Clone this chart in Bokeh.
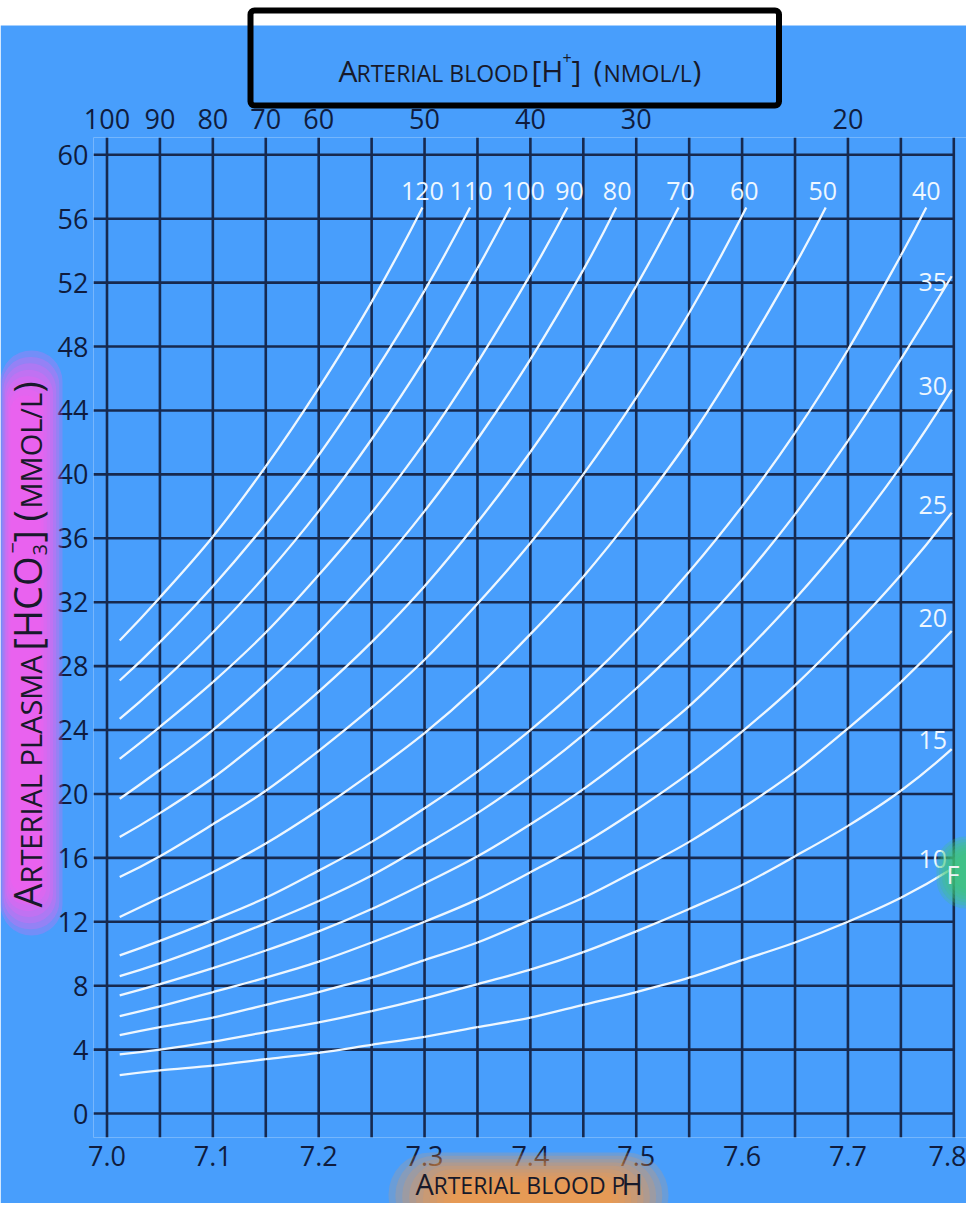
import math
from bokeh.plotting import figure
from bokeh.models import LinearAxis, FixedTicker, ColumnDataSource, Range1d
from bokeh.core.properties import value
from bokeh.embed import file_html
from bokeh.resources import INLINE

# ---------------- data ----------------
PH_TICKS = [7.0, 7.1, 7.2, 7.3, 7.4, 7.5, 7.6, 7.7, 7.8]
PH_TICK_LABELS = ["7.0", "7.1", "7.2", "7.3", "7.4", "7.5", "7.6", "7.7", "7.8"]
PH_GRID = [7.0, 7.05, 7.1, 7.15, 7.2, 7.25, 7.3, 7.35, 7.4, 7.45, 7.5, 7.55, 7.6, 7.65, 7.7, 7.75, 7.8]
HCO3_TICKS = [0, 4, 8, 12, 16, 20, 24, 28, 32, 36, 40, 44, 48, 52, 56, 60]
H_ION_PH = [7.0, 7.05, 7.1, 7.15, 7.2, 7.3, 7.4, 7.5, 7.7]
H_ION_LABELS = ["100", "90", "80", "70", "60", "50", "40", "30", "20"]

# pH positions at which the isobars were read
PH_READ = [7.012, 7.05, 7.10, 7.15, 7.20, 7.25, 7.30, 7.35, 7.40, 7.45, 7.50,
           7.55, 7.60, 7.65, 7.70, 7.75, 7.798]

# PCO2 isobars that end at the top of the chart (label above the end)
PCO2_HIGH = ["120", "110", "100", "90", "80", "70", "60", "50", "40"]
END_PH_HIGH = [7.298, 7.343, 7.381, 7.435, 7.481, 7.540, 7.604, 7.679, 7.774]
HCO3_120 = [29.6, 32.3, 36.1, 40.5, 45.4, 50.8, 56.7]
HCO3_110 = [27.1, 29.5, 33.0, 36.9, 41.2, 46.1, 51.5, 56.7]
HCO3_100 = [24.7, 26.9, 30.1, 33.7, 37.7, 42.2, 47.2, 52.9, 56.7]
HCO3_90 = [22.2, 24.2, 27.0, 30.1, 33.7, 37.6, 42.0, 47.0, 52.5, 56.7]
HCO3_80 = [19.7, 21.5, 24.0, 26.9, 30.1, 33.7, 37.7, 42.2, 47.2, 52.8, 56.7]
HCO3_70 = [17.3, 18.8, 21.0, 23.6, 26.4, 29.5, 33.0, 37.0, 41.4, 46.3, 51.8, 56.7]
HCO3_60 = [14.8, 16.1, 18.1, 20.2, 22.7, 25.4, 28.4, 31.9, 35.7, 40.0, 44.8, 50.1, 56.7]
HCO3_50 = [12.3, 13.5, 15.1, 16.9, 19.0, 21.3, 23.8, 26.7, 30.0, 33.6, 37.7, 42.2, 47.4, 53.1, 56.7]
HCO3_40 = [9.9, 10.8, 12.1, 13.5, 15.2, 17.0, 19.1, 21.4, 24.0, 26.9, 30.2, 33.9, 38.0, 42.6, 47.8, 53.7, 56.7]

# PCO2 isobars that run out at the right edge (label at the right end)
PCO2_LOW = ["35", "30", "25", "20", "15", "10"]
HCO3_35 = [8.6, 9.4, 10.6, 11.9, 13.3, 14.9, 16.8, 18.8, 21.1, 23.7, 26.6, 29.8, 33.4, 37.5, 42.1, 47.2, 52.4]
HCO3_30 = [7.4, 8.1, 9.1, 10.2, 11.4, 12.8, 14.4, 16.1, 18.1, 20.3, 22.8, 25.5, 28.7, 32.2, 36.1, 40.5, 45.3]
HCO3_25 = [6.1, 6.7, 7.6, 8.5, 9.5, 10.7, 12.0, 13.4, 15.1, 16.9, 19.0, 21.3, 23.9, 26.8, 30.1, 33.7, 37.6]
HCO3_20 = [4.9, 5.4, 6.0, 6.8, 7.6, 8.5, 9.6, 10.7, 12.1, 13.5, 15.2, 17.0, 19.1, 21.4, 24.1, 27.0, 30.2]
HCO3_15 = [3.7, 4.0, 4.5, 5.1, 5.7, 6.4, 7.2, 8.1, 9.0, 10.1, 11.4, 12.8, 14.3, 16.1, 18.0, 20.2, 22.8]
HCO3_10 = [2.4, 2.7, 3.0, 3.4, 3.8, 4.3, 4.8, 5.4, 6.0, 6.8, 7.6, 8.5, 9.6, 10.7, 12.0, 13.5, 15.3]

HIGH_SERIES = [HCO3_120, HCO3_110, HCO3_100, HCO3_90, HCO3_80, HCO3_70, HCO3_60, HCO3_50, HCO3_40]
LOW_SERIES = [HCO3_35, HCO3_30, HCO3_25, HCO3_20, HCO3_15, HCO3_10]

# ---------------- styling / layout ----------------
FONT = "Open Sans"
BLUE = "#489efc"
GRID = "#16294f"
INK = "#0f1c3e"
CURVE = "#eef7ff"
TITLE_INK = "#17192a"

# label nudges (screen px) so that each isobar label sits where the picture has it
HIGH_LABEL_DX = [0, 1, 13, 2, 1, 2, -2, -3, 0]
LOW_LABEL_DY = [6, -4, -8, -13, -9, -10]

W, H = 966, 1203
FL, FT, FB, FR = 93, 137, 1137, 966    # frame edges in picture pixels
X0, X1 = 6.98725, 7.81200
Y0, Y1 = -1.502, 61.084
KX = (X1 - X0) / (FR - FL)
KY = (Y1 - Y0) / (FB - FT)


def dx(px):
    return X0 + (px - FL) * KX


def dy(py):
    return Y1 - (py - FT) * KY


p = figure(width=W, height=H, x_range=Range1d(X0, X1), y_range=Range1d(Y0, Y1),
           min_border_left=FL, min_border_right=0, min_border_top=FT, min_border_bottom=H - FB,
           toolbar_location=None, output_backend="svg",
           background_fill_color=BLUE, border_fill_color=BLUE, outline_line_color=None)
p.grid.visible = False

bottom_axis = p.below[0]
left_axis = p.left[0]
top_axis = LinearAxis(ticker=FixedTicker(ticks=H_ION_PH),
                      major_label_overrides=dict(zip(H_ION_PH, H_ION_LABELS)))
p.add_layout(top_axis, "above")
bottom_axis.ticker = FixedTicker(ticks=PH_TICKS)
bottom_axis.major_label_overrides = dict(zip(PH_TICKS, PH_TICK_LABELS))
left_axis.ticker = FixedTicker(ticks=HCO3_TICKS)

for ax in (bottom_axis, left_axis, top_axis):
    ax.axis_line_color = None
    ax.major_tick_line_color = None
    ax.minor_tick_line_color = None
    ax.major_tick_in = 0
    ax.major_tick_out = 0
    ax.major_label_text_font = FONT
    ax.major_label_text_font_size = "27px"
    ax.major_label_text_color = INK
bottom_axis.major_label_standoff = 8
top_axis.major_label_standoff = 9
left_axis.major_label_standoff = 5


def rbox(l, t, r, b, **kw):
    p.quad(left=[dx(l)], right=[dx(r)], top=[dy(t)], bottom=[dy(b)], level="overlay", **kw)


def glow(l, t, r, b, il, it, ir, ib, color, n=8, alpha=0.15):
    for i in range(n):
        f = i / (n - 1)
        L = l + (il - l) * f
        T = t + (it - t) * f
        Rr = r + (ir - r) * f
        B = b + (ib - b) * f
        rad = int(min(Rr - L, B - T) / 2)
        rbox(L, T, Rr, B, fill_color=color, fill_alpha=alpha, line_color=None, border_radius=rad)


def text(txt, X, Y, size, color=TITLE_INK, angle=0.0):
    # (X, Y): start of the text on its baseline, in picture pixels
    up = 0.357 * size
    if angle == 0.0:
        cx, cy = X, Y - up
    else:
        cx, cy = X - up, Y
    p.text(x=[dx(cx)], y=[dy(cy)], text=[txt], angle=angle, text_font=value(FONT),
           text_font_size=f"{size}px", text_color=color, text_align="left",
           text_baseline="middle", level="overlay")


def hermite_segments(xv, yv):
    """Smooth drawing through the read points (cubic Hermite, x stays monotonic)."""
    n = len(xv)
    sec = [(yv[i + 1] - yv[i]) / (xv[i + 1] - xv[i]) for i in range(n - 1)]
    s = [0.0] * n
    for i in range(1, n - 1):
        s[i] = (yv[i + 1] - yv[i - 1]) / (xv[i + 1] - xv[i - 1])
    s[0] = 2 * sec[0] - s[1] if n > 2 else sec[0]
    s[-1] = 2 * sec[-1] - s[-2] if n > 2 else sec[-1]
    out = []
    for i in range(n - 1):
        h = xv[i + 1] - xv[i]
        out.append((xv[i], yv[i], xv[i + 1], yv[i + 1],
                    xv[i] + h / 3, yv[i] + s[i] * h / 3,
                    xv[i + 1] - h / 3, yv[i + 1] - s[i + 1] * h / 3))
    return out


# white strip at the very top of the picture
rbox(-10, -10, 980, 25, fill_color="white", fill_alpha=1.0, line_color=None)

# glows behind the axis titles
glow(0, 350, 62, 935, 10, 395, 40, 892, "#ff5cf0", n=8, alpha=0.24)
glow(388, 1152, 668, 1236, 450, 1182, 612, 1220, "#ff9a40", n=10, alpha=0.19)
glow(936, 836, 995, 908, 952, 852, 990, 890, "#3fc777", n=7, alpha=0.25)

# grid lines
p.segment(x0=PH_GRID, y0=[Y0] * len(PH_GRID), x1=PH_GRID, y1=[Y1] * len(PH_GRID),
          line_color=GRID, line_width=2.6)
p.segment(x0=[X0] * len(HCO3_TICKS), y0=HCO3_TICKS, x1=[PH_GRID[-1]] * len(HCO3_TICKS),
          y1=HCO3_TICKS, line_color=GRID, line_width=2.6)

# isobars
curves = []
for vals, end in zip(HIGH_SERIES, END_PH_HIGH):
    curves.append((PH_READ[:len(vals) - 1] + [end], vals))
for vals in LOW_SERIES:
    curves.append((PH_READ[:len(vals)], vals))
cols = {k: [] for k in ("x0", "y0", "x1", "y1", "cx0", "cy0", "cx1", "cy1")}
for xv, yv in curves:
    for seg in hermite_segments(xv, yv):
        for k, v in zip(("x0", "y0", "x1", "y1", "cx0", "cy0", "cx1", "cy1"), seg):
            cols[k].append(v)
p.bezier(x0="x0", y0="y0", x1="x1", y1="y1", cx0="cx0", cy0="cy0", cx1="cx1", cy1="cy1",
         source=ColumnDataSource(cols), line_color=CURVE, line_width=2.3)

# isobar labels
hi_src = ColumnDataSource(dict(x=END_PH_HIGH, y=[v[-1] for v in HIGH_SERIES], t=PCO2_HIGH,
                               dxo=HIGH_LABEL_DX))
p.text(x="x", y="y", text="t", source=hi_src, text_font=value(FONT), text_font_size="25px",
       text_color=CURVE, text_align="center", text_baseline="middle", x_offset="dxo", y_offset=-17)
lo_src = ColumnDataSource(dict(x=[PH_READ[-1]] * len(LOW_SERIES), y=[v[-1] for v in LOW_SERIES],
                               t=PCO2_LOW, dyo=LOW_LABEL_DY))
p.text(x="x", y="y", text="t", source=lo_src, text_font=value(FONT), text_font_size="25px",
       text_color=CURVE, text_align="center", text_baseline="middle", x_offset=-19, y_offset="dyo")

# boxed top title: ARTERIAL BLOOD [H+] (NMOL/L)
rbox(250, 10, 778.5, 105, fill_alpha=0.0, line_color="black", line_width=6, border_radius=4)
text("A", 338, 81, 30)
text("RTERIAL BLOOD", 356, 81, 23)
text("[H", 531, 81, 30)
text("+", 562, 63, 16)
text("]", 571, 81, 30)
text("(", 593, 81, 30)
text("NMOL/L", 603, 81, 23)
text(")", 692, 81, 30)

# bottom title: ARTERIAL BLOOD pH
text("A", 415, 1193, 29)
text("RTERIAL BLOOD P", 433, 1193, 23)
text("H", 621, 1193, 29)

# left title (rotated): ARTERIAL PLASMA [HCO3-] (MMOL/L)
R = math.pi / 2
text("A", 40, 907, 38, angle=R)
text("RTERIAL PLASMA", 40, 883, 29, angle=R)
text("[HCO", 40, 650, 38, angle=R)
text("3", 47, 555, 20, angle=R)
text("\u2212", 20, 553, 20, angle=R)
text("]", 40, 542, 38, angle=R)
text("(", 40, 521, 38, angle=R)
text("MMOL/L", 40, 508, 29, angle=R)
text(")", 40, 392, 38, angle=R)

# letter at the right edge, kept fully inside the picture
text("F", 946, 882, 25, color="#eef2f6")

open("out.html", "w").write(file_html(p, INLINE))
